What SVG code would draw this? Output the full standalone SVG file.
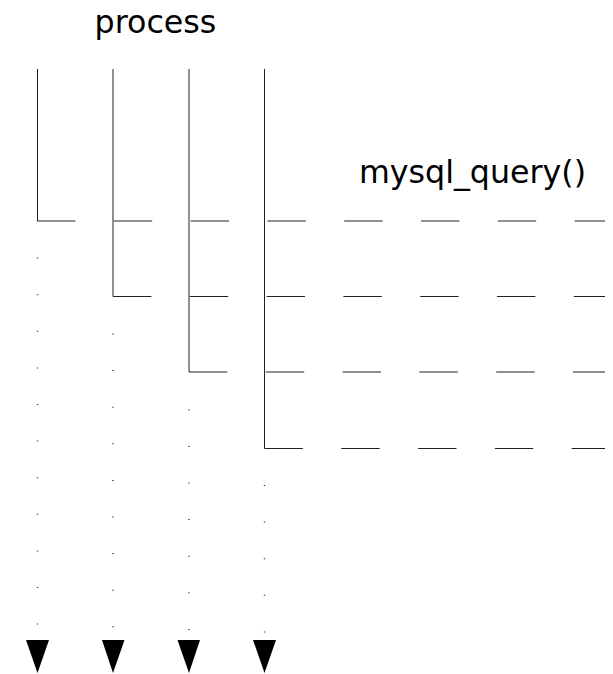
<svg xmlns="http://www.w3.org/2000/svg" width="613" height="674" viewBox="0 0 613 674">
  <style>
    .label { font-family: "DejaVu Sans", "Liberation Sans", sans-serif; font-size: 31.7px; fill: #000; }
    .bar { stroke: #222; stroke-width: 1; fill: none; }
    .dots { stroke: #333; stroke-width: 1.4; fill: none; stroke-dasharray: 1 35.6; }
    .call { stroke: #222; stroke-width: 1; fill: none; stroke-dasharray: 38.4 38.4; }
    .head { fill: #000; }
  </style>

  <rect width="613" height="674" fill="#fff"/>

  <g id="title-process"><text class="label" x="155.5" y="33" text-anchor="middle">process</text></g>
  <g id="title-query"><text class="label" x="472.5" y="183" text-anchor="middle">mysql_query()</text></g>

  <!-- lifelines: active bar, dotted tail, arrow head -->
  <g id="lifeline-1">
    <line class="bar" x1="37.5" y1="69" x2="37.5" y2="221"/>
    <line class="dots" x1="37.5" y1="257.6" x2="37.5" y2="640"/>
    <polygon class="head" points="26,640 49,640 37.5,673"/>
  </g>
  <g id="lifeline-2">
    <line class="bar" x1="113" y1="69" x2="113" y2="296.5"/>
    <line class="dots" x1="113" y1="333.5" x2="113" y2="640"/>
    <polygon class="head" points="102,640 124.5,640 113,673"/>
  </g>
  <g id="lifeline-3">
    <line class="bar" x1="189" y1="69" x2="189" y2="372"/>
    <line class="dots" x1="189" y1="409.3" x2="189" y2="640"/>
    <polygon class="head" points="177.5,640 200,640 189,673"/>
  </g>
  <g id="lifeline-4">
    <line class="bar" x1="264.5" y1="69" x2="264.5" y2="448.5"/>
    <line class="dots" x1="264.5" y1="485" x2="264.5" y2="640"/>
    <polygon class="head" points="253,640 276,640 264.5,673"/>
  </g>

  <!-- calls to the right -->
  <g id="connectors">
    <line class="call" x1="37" y1="221" x2="605" y2="221"/>
    <line class="call" x1="113" y1="296.5" x2="605" y2="296.5"/>
    <line class="call" x1="189" y1="372" x2="605" y2="372"/>
    <line class="call" x1="264.5" y1="448.5" x2="605" y2="448.5"/>
  </g>
</svg>
